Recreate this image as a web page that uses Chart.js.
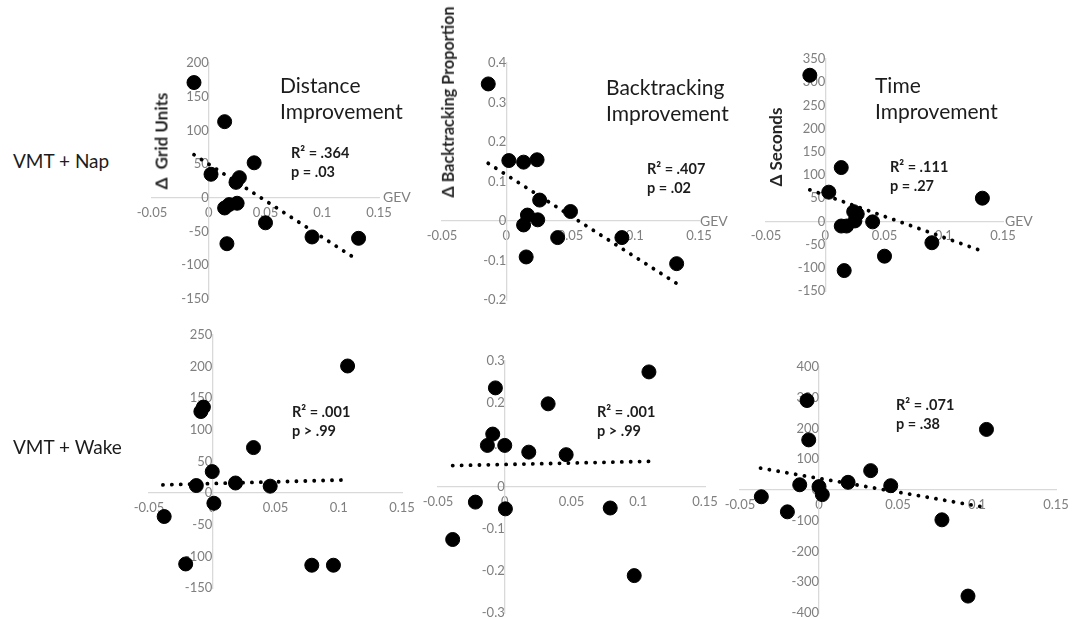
<!DOCTYPE html>
<html>
<head>
<meta charset="utf-8">
<script src="https://cdn.jsdelivr.net/npm/chart.js@4.4.1/dist/chart.umd.min.js"></script>
<style>
  body { margin: 0; background: #fff; width: 1075px; height: 619px; position: relative; overflow: hidden;
         font-family: Lato, "Open Sans", sans-serif; }
  canvas { position: absolute; }
  .lbl { position: absolute; white-space: nowrap; color: #1c1c1c; line-height: 1; }
  .row { font-size: 19px; }
  .title { font-size: 21px; line-height: 26px; }
  .stat { font-size: 14.5px; font-weight: bold; line-height: 19px; }
  .ytitle { font-size: 17px; font-weight: bold; color: #262626; transform: translate(-50%, -50%) rotate(-90deg); }
  .gev { font-size: 14px; color: #7f7f7f; transform: translateY(-50%); }
</style>
</head>
<body>

<canvas id="c1"></canvas><canvas id="c2"></canvas><canvas id="c3"></canvas>
<canvas id="c4"></canvas><canvas id="c5"></canvas><canvas id="c6"></canvas>

<div class="lbl row" style="left:13px;top:151px">VMT + Nap</div>
<div class="lbl row" style="left:13px;top:437px">VMT + Wake</div>

<div class="lbl title" style="left:280px;top:72px">Distance<br>Improvement</div>
<div class="lbl title" style="left:606px;top:74px">Backtracking<br>Improvement</div>
<div class="lbl title" style="left:875px;top:72px">Time<br>Improvement</div>

<div class="lbl stat" style="left:291px;top:143px">R² = .364<br>p = .03</div>
<div class="lbl stat" style="left:647px;top:159px">R² = .407<br>p = .02</div>
<div class="lbl stat" style="left:890px;top:157px">R² = .111<br>p = .27</div>
<div class="lbl stat" style="left:292px;top:402px">R² = .001<br>p &gt; .99</div>
<div class="lbl stat" style="left:597px;top:402px">R² = .001<br>p &gt; .99</div>
<div class="lbl stat" style="left:896px;top:395px">R² = .071<br>p = .38</div>

<div class="lbl ytitle" style="left:161px;top:141px">Δ&nbsp; Grid Units</div>
<div class="lbl ytitle" style="left:448px;top:102px;font-size:16.2px">Δ Backtracking Proportion</div>
<div class="lbl ytitle" style="left:775px;top:147px">Δ Seconds</div>

<div class="lbl gev" style="left:383px;top:197px">GEV</div>
<div class="lbl gev" style="left:700px;top:221px">GEV</div>
<div class="lbl gev" style="left:1005px;top:221px">GEV</div>

<script>
// VMT + Nap: GEV vs improvement
const napDistX = [-0.013, 0.014, 0.002, 0.040, 0.024, 0.027, 0.014, 0.018, 0.025, 0.016, 0.050, 0.091, 0.132];
const napDistY = [171, 113, 35, 52, 23, 30, -15, -10, -8, -68, -37, -58, -60];
const napDistTrendX = [-0.013, 0.132];
const napDistTrendY = [64, -93];

const napBackX = [-0.014, 0.002, 0.0135, 0.024, 0.026, 0.0165, 0.0245, 0.0135, 0.050, 0.040, 0.090, 0.0155, 0.1326];
const napBackY = [0.347, 0.153, 0.149, 0.155, 0.053, 0.015, 0.003, -0.010, 0.024, -0.042, -0.042, -0.091, -0.108];
const napBackTrendX = [-0.014, 0.1326];
const napBackTrendY = [0.146, -0.158];

const napTimeX = [-0.013, 0.0135, 0.003, 0.024, 0.027, 0.025, 0.0135, 0.018, 0.040, 0.1326, 0.090, 0.050, 0.016];
const napTimeY = [315, 116, 63, 21, 16, 1, -10, -10, -1, 50, -46, -75, -106];
const napTimeTrendX = [-0.013, 0.1326];
const napTimeTrendY = [68, -64];

// VMT + Wake
const wakeDistX = [0.107, -0.007, -0.009, 0.0326, 0, -0.0126, 0.0184, 0.0458, 0.0013, -0.038, -0.021, 0.0787, 0.0958];
const wakeDistY = [201, 136, 129, 72, 34, 12, 16, 11, -16, -37, -112, -114, -114];
const wakeDistTrendX = [-0.039, 0.107];
const wakeDistTrendY = [13, 21];

const wakeBackX = [0.108, -0.007, 0.0325, -0.009, -0.013, 0, 0.018, 0.046, -0.022, 0.0005, 0.079, -0.039, 0.097];
const wakeBackY = [0.274, 0.236, 0.198, 0.126, 0.099, 0.099, 0.083, 0.077, -0.036, -0.052, -0.050, -0.125, -0.211];
const wakeBackTrendX = [-0.039, 0.108];
const wakeBackTrendY = [0.051, 0.061];

const wakeTimeX = [-0.0076, -0.0065, 0.106, 0.0327, -0.0122, 0, 0.0021, 0.0184, 0.0454, -0.0365, -0.020, 0.0778, 0.0943];
const wakeTimeY = [291, 163, 197, 63, 17, 11, -15, 25, 14, -22, -71, -97, -345];
const wakeTimeTrendX = [-0.037, 0.106];
const wakeTimeTrendY = [71, -57];

const xTicks = {min: -0.05, max: 0.15, step: 0.05};

const tickGrey = "#7f7f7f";
const axisGrey = "#d9d9d9";
const pad = 30;

const toPoints = (xs, ys) => xs.map((x, i) => ({x: x, y: ys[i]}));

function panel(id, area, xs, ys, tx, ty, yMin, yMax, yStep, yDec, radius) {
  const cv = document.getElementById(id);
  const w = Math.round(area.r - area.l + 2 * pad);
  const h = Math.round(area.b - area.t + 2 * pad);
  cv.width = w; cv.height = h;
  cv.style.left = Math.round(area.l - pad) + "px";
  cv.style.top = Math.round(area.t - pad) + "px";
  cv.style.width = w + "px"; cv.style.height = h + "px";

  new Chart(cv.getContext("2d"), {
    type: "scatter",
    data: {
      datasets: [{
        data: toPoints(xs, ys),
        backgroundColor: "#000",
        borderColor: "#000",
        pointRadius: radius,
        pointHoverRadius: radius
      }, {
        data: toPoints(tx, ty),
        showLine: true,
        pointRadius: 0,
        borderColor: "#000",
        borderWidth: 3.8,
        borderDash: [0.1, 8.8],
        borderCapStyle: "round"
      }]
    },
    options: {
      responsive: false,
      animation: false,
      devicePixelRatio: 1,
      layout: {padding: pad},
      plugins: {legend: {display: false}, tooltip: {enabled: false}},
      scales: {
        x: {
          type: "linear",
          position: {y: 0},
          min: xTicks.min, max: xTicks.max,
          ticks: {stepSize: xTicks.step, color: tickGrey, font: {family: "Lato", size: 13}, padding: 7,
                  maxRotation: 0, callback: v => String(Number(v.toFixed(2)))},
          grid: {display: true, drawOnChartArea: false, drawTicks: false},
          border: {color: axisGrey, width: 1.3}
        },
        y: {
          type: "linear",
          position: {x: 0},
          min: yMin, max: yMax,
          ticks: {stepSize: yStep, color: tickGrey, font: {family: "Lato", size: 13}, padding: 8,
                  callback: v => String(Number(v.toFixed(yDec)))},
          grid: {display: true, drawOnChartArea: false, drawTicks: false},
          border: {color: axisGrey, width: 1.3}
        }
      }
    }
  });
}

panel("c1", {l: 151.7, r: 378.3, t: 62.7, b: 299}, napDistX, napDistY, napDistTrendX, napDistTrendY, -150, 200, 50, 0, 7);
panel("c2", {l: 441.7, r: 699, t: 63.3, b: 300}, napBackX, napBackY, napBackTrendX, napBackTrendY, -0.2, 0.4, 0.1, 1, 7);
panel("c3", {l: 765.7, r: 1003, t: 59, b: 291}, napTimeX, napTimeY, napTimeTrendX, napTimeTrendY, -150, 350, 50, 0, 7);
panel("c4", {l: 149, r: 402.3, t: 335, b: 588.3}, wakeDistX, wakeDistY, wakeDistTrendX, wakeDistTrendY, -150, 250, 50, 0, 7);
panel("c5", {l: 438.3, r: 705, t: 360.7, b: 612.7}, wakeBackX, wakeBackY, wakeBackTrendX, wakeBackTrendY, -0.3, 0.3, 0.1, 1, 7);
panel("c6", {l: 740.3, r: 1056.3, t: 366.7, b: 612.3}, wakeTimeX, wakeTimeY, wakeTimeTrendX, wakeTimeTrendY, -400, 400, 100, 0, 7);
</script>
</body>
</html>
